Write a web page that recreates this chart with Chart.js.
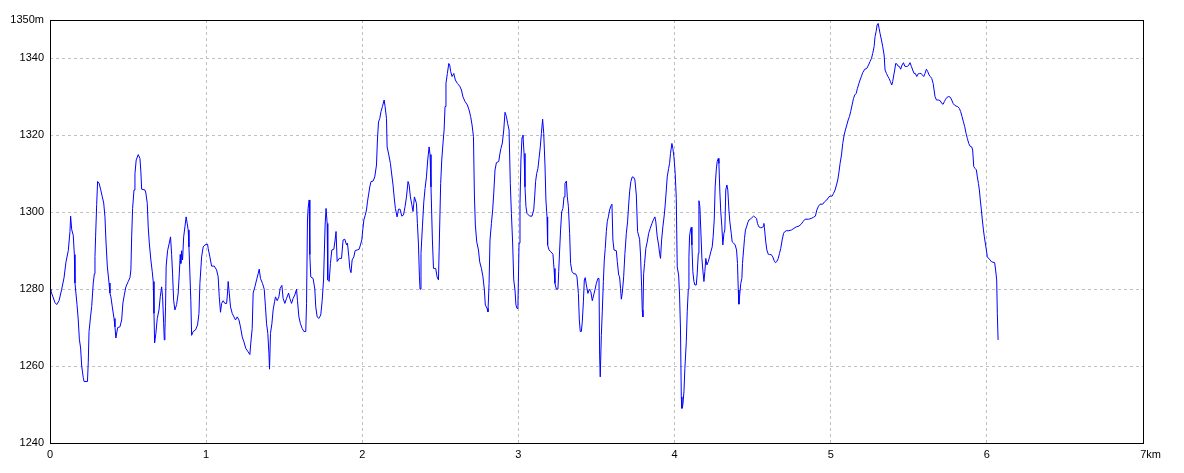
<!DOCTYPE html>
<html>
<head>
<meta charset="utf-8">
<script src="https://cdn.jsdelivr.net/npm/chart.js@4/dist/chart.umd.min.js"></script>
<style>
html,body{margin:0;padding:0;background:#fff;}
#wrap{width:1184px;height:473px;}
</style>
</head>
<body>
<div id="wrap"><canvas id="c" width="1184" height="473" style="width:1184px;height:473px"></canvas></div>
<script>
// Distance along the route (metres)
const distanceM = [
0,6,19,32,43,58,75,90,102,117,
128,132,139,149,156,160,173,181,188,196,
203,213,218,240,245,250,260,267,277,284,
288,292,299,305,314,324,335,344,352,358,
367,378,384,390,399,410,416,422,433,448,
459,467,476,486,501,512,518,523,529,538,
544,552,565,576,582,587,608,614,623,629,
636,646,655,661,666,670,678,687,698,706,
715,721,728,732,736,740,744,753,764,772,
779,785,792,800,811,821,828,834,838,843,
849,856,864,872,879,885,890,896,902,907,
917,932,945,954,960,971,981,992,1009,1013,
1024,1035,1052,1067,1077,1084,1092,1099,1109,1120,
1131,1137,1141,1148,1156,1167,1178,1188,1199,1210,
1220,1231,1242,1254,1269,1280,1286,1295,1301,1312,
1323,1333,1340,1348,1361,1372,1380,1387,1395,1402,
1406,1412,1421,1429,1438,1444,1455,1466,1474,1485,
1493,1504,1515,1528,1536,1547,1557,1568,1579,1585,
1594,1604,1615,1626,1638,1643,1649,1653,1660,1664,
1670,1685,1696,1702,1711,1722,1734,1743,1752,1762,
1768,1775,1779,1788,1796,1805,1818,1826,1832,1839,
1852,1867,1877,1888,1899,1905,1914,1920,1928,1935,
1946,1954,1967,1980,1988,1997,2003,2010,2018,2027,
2033,2040,2048,2056,2069,2080,2091,2097,2104,2112,
2120,2129,2140,2146,2155,2159,2170,2180,2189,2197,
2204,2212,2223,2232,2242,2253,2264,2274,2283,2293,
2300,2308,2317,2325,2334,2340,2347,2353,2360,2366,
2370,2376,2385,2394,2402,2411,2419,2428,2434,2440,
2449,2456,2470,2479,2488,2492,2502,2509,2517,2524,
2530,2536,2545,2554,2560,2566,2575,2586,2596,2609,
2624,2635,2645,2658,2673,2684,2694,2703,2712,2718,
2724,2733,2744,2752,2763,2773,2782,2788,2799,2805,
2812,2818,2827,2835,2842,2850,2859,2874,2880,2888,
2897,2906,2914,2923,2931,2940,2948,2955,2963,2970,
2978,2984,2991,2997,3004,3010,3016,3023,3029,3036,
3042,3048,3055,3072,3087,3098,3104,3110,3117,3125,
3132,3140,3147,3155,3162,3170,3176,3183,3187,3196,
3208,3221,3228,3234,3243,3253,3258,3264,3270,3277,
3285,3292,3298,3307,3313,3320,3328,3334,3343,3354,
3366,3375,3384,3390,3396,3403,3409,3416,3422,3428,
3435,3445,3454,3464,3473,3482,3490,3499,3509,3516,
3520,3524,3531,3537,3544,3550,3556,3563,3569,3576,
3584,3592,3599,3605,3612,3627,3633,3642,3648,3654,
3659,3665,3674,3682,3691,3699,3706,3712,3720,3729,
3738,3746,3755,3763,3776,3782,3789,3793,3797,3802,
3808,3816,3825,3834,3844,3855,3866,3874,3880,3889,
3898,3904,3910,3917,3925,3934,3940,3947,3953,3962,
3968,3974,3983,3989,3996,4004,4011,4017,4026,4032,
4038,4043,4047,4053,4060,4066,4075,4081,4088,4092,
4096,4102,4107,4111,4117,4124,4130,4139,4145,4152,
4156,4162,4168,4175,4181,4188,4194,4200,4207,4216,
4224,4232,4241,4247,4254,4260,4267,4273,4280,4284,
4290,4296,4303,4309,4316,4322,4328,4335,4341,4348,
4354,4363,4369,4378,4388,4397,4403,4408,4412,4418,
4424,4431,4435,4442,4448,4454,4461,4469,4476,4486,
4497,4506,4516,4525,4531,4540,4550,4561,4568,4572,
4578,4584,4591,4600,4608,4619,4629,4638,4646,4655,
4664,4672,4680,4689,4698,4704,4715,4732,4749,4764,
4779,4796,4811,4821,4836,4858,4875,4890,4902,4911,
4922,4932,4949,4960,4975,4988,4998,5009,5018,5028,
5037,5045,5052,5060,5069,5077,5086,5094,5103,5112,
5120,5128,5137,5146,5154,5163,5171,5180,5188,5197,
5205,5218,5231,5242,5252,5261,5269,5278,5284,5291,
5297,5304,5310,5316,5325,5333,5342,5348,5357,5365,
5374,5382,5391,5397,5404,5410,5416,5423,5432,5440,
5448,5457,5466,5474,5483,5491,5500,5508,5517,5525,
5534,5542,5551,5560,5568,5579,5587,5596,5604,5613,
5621,5630,5638,5647,5656,5662,5668,5677,5690,5702,
5711,5720,5728,5736,5745,5756,5766,5775,5784,5792,
5803,5813,5824,5832,5841,5850,5858,5867,5875,5884,
5892,5903,5909,5916,5924,5933,5939,5946,5952,5958,
5965,5971,5978,5984,5990,5997,6003,6016,6031,6050,
6056,6063,6067,6072
];

// Elevation (metres)
const elevationM = [
1280,1279.5,1278,1276.5,1276,1277,1280,1283,1287,1290,
1295,1299,1295.5,1294,1289,1281.6,1276,1272,1267,1264.7,
1260,1257,1256,1256,1261,1269,1273,1275.5,1281.6,1284,
1288.5,1293.6,1302,1308,1307.6,1306,1304,1302.4,1298.8,1292.8,
1286,1281.6,1279,1278,1275.4,1272.4,1270.2,1267.3,1270,1270.2,
1272,1276.4,1278.5,1280.6,1282,1283,1285,1293.6,1301,1305.8,
1310,1313.6,1315,1314,1310.5,1306,1305.8,1305,1302.3,1296.2,
1292,1287.6,1284.5,1282,1273.7,1266,1268.5,1272.4,1274.6,1278,
1280.6,1278,1271,1266.8,1269,1275.4,1286,1290,1292,1293.6,
1289,1284,1277,1274.6,1276,1279,1284,1289,1286.7,1290,
1287.6,1293.6,1296.2,1298.8,1297,1295.4,1291,1284,1277,1268,
1269,1269.4,1270.7,1273.7,1281.5,1288.4,1291,1291.5,1291.7,1290.6,
1288.4,1286,1286,1285,1283.2,1278,1274,1276.3,1277,1276.3,
1276.3,1279,1282,1279,1275.4,1273.7,1272.8,1272,1272.8,1272,
1270.2,1267.6,1266.3,1264.6,1263.7,1263,1266,1269.8,1279,1280.6,
1282.4,1284,1285.2,1282.8,1281.5,1280,1275.4,1271,1268.5,1263.3,
1259.2,1268.5,1271,1274.6,1276.7,1278,1277,1278,1280.2,1281,
1277.6,1276.3,1277.6,1279,1277.6,1276.3,1277.6,1278.5,1280,1277,
1272.8,1271,1269.8,1269,1269,1276.3,1298,1301,1303.2,1289,
1283.2,1282.8,1280,1275.4,1272.8,1272.4,1273.3,1277,1282.4,1296.7,
1301,1297.1,1282.4,1282,1286.7,1290.2,1290.4,1292.8,1295,1287.2,
1288,1288,1292.8,1293,1291.5,1292,1288.4,1285.4,1284.3,1287.6,
1288.4,1290,1290.2,1290.4,1291.5,1292.8,1295.4,1298,1299.1,1300.6,
1302.7,1304.5,1306.6,1308,1308.1,1309.2,1312.3,1318.8,1323.5,1324.4,
1326.2,1327.5,1329.2,1327.5,1324.4,1317,1314.9,1312.7,1309.7,1307.1,
1304,1301,1298.8,1300.8,1300.8,1299,1299.3,1301.5,1304,1308,
1307.1,1304,1302,1300.2,1304,1303.2,1302.3,1297.1,1291.5,1283.2,
1280,1289.3,1296.2,1302.7,1306.2,1309.2,1313.6,1317,1315,1306.6,
1292.8,1285.4,1285.4,1283.2,1282.4,1289.7,1307.5,1313.6,1318,1321.4,
1327.5,1333.5,1336.1,1338.7,1338.3,1336.6,1335.3,1336.1,1334.4,1333.5,
1332.8,1331.8,1330,1328.8,1327.9,1326.6,1324.9,1322.7,1319.7,1304.5,
1296.7,1292.3,1290.2,1287.1,1285.4,1283.2,1279.8,1275.9,1275,1274.1,
1281.5,1292.8,1297.1,1300.6,1305,1311,1312.9,1313.2,1314.9,1316.6,
1318,1321.4,1326,1324.9,1323.1,1321.4,1307.5,1299.7,1292,1282.4,
1279.8,1275.9,1275,1276.3,1292,1302.3,1313.6,1319.5,1320.1,1315.3,
1306.6,1301.5,1299.7,1299,1299,1300.6,1304,1308,1310.1,1311.4,
1314,1317,1320.5,1324.2,1320.5,1312.3,1303.2,1298.8,1291.5,1290.2,
1289.7,1289.1,1285.4,1281.5,1280,1280,1284.6,1290.2,1295.4,1300.1,
1301,1304,1307.5,1308.1,1304,1301.5,1294.5,1286.7,1284.6,1284,
1284,1283.2,1278.9,1272,1269,1269,1271.5,1276.7,1282.4,1283,
1281.1,1278.9,1280,1279.3,1277,1278.5,1279.8,1281.5,1282.8,1282.8,
1262.9,1257.2,1268,1274.1,1282,1287.6,1290.6,1295,1297.6,1298.8,
1300.6,1301.6,1302.1,1292.8,1290.2,1290,1287.2,1283.7,1283.2,1280.2,
1277.4,1278.9,1283.2,1289.3,1294.5,1297.5,1301.9,1305.3,1308,1309.2,
1309.1,1308.4,1304.5,1295,1293,1288.9,1280.6,1274.6,1272.8,1284,
1286.7,1290.6,1292.3,1294.5,1295.8,1297.1,1298.2,1298.8,1297.5,1293.6,
1291.5,1289.3,1288,1292.8,1296.2,1299.3,1301.9,1305.8,1309.2,1311.4,
1312.7,1315.3,1317.9,1316.6,1314.4,1310.1,1303.6,1285.8,1283.7,1278.5,
1269.4,1252,1249,1249.9,1253.3,1259.4,1266.3,1274.1,1280,1288.4,
1293.8,1295.4,1296.1,1291.5,1284.6,1282,1281.1,1281.1,1284,1289.3,
1303,1301.5,1295.4,1288,1285,1282,1284.6,1288,1286.3,1287.2,
1288.4,1289.7,1291,1293.6,1298,1306.6,1311,1313.2,1314,1312.7,
1305.3,1300.1,1296.2,1291.5,1294.5,1295.4,1305.8,1307.1,1305.8,1300.6,
1297.5,1294.5,1292.3,1292,1291.5,1290.2,1286.7,1279.8,1276.1,1278.9,
1281.5,1282.8,1286.7,1290.2,1293.2,1295.4,1296.2,1297.3,1298,1298.2,
1298.7,1299,1298.7,1298.4,1297.1,1296.2,1296,1296,1296.4,1297.1,
1294.9,1292.3,1290.2,1289.1,1289,1289,1288.4,1287.4,1286.9,1287.2,
1288,1289.3,1290.6,1292.8,1294.5,1294.9,1295.2,1295.2,1295.4,1295.8,
1296.2,1296.4,1296.9,1297.5,1298.2,1298.2,1298.4,1298.7,1299,1300.6,
1301.6,1302.1,1302.1,1302.7,1303.2,1304,1304.2,1304.2,1304.9,1305.8,
1307.1,1308.4,1310.2,1312.7,1314.9,1317.9,1320.1,1321.4,1322.7,1324,
1324.9,1326.2,1327.9,1329.6,1330.5,1330.9,1332.2,1333.4,1334.4,1335.4,
1336.3,1337.2,1337.4,1338.3,1339.2,1340,1341.3,1343.1,1345.7,1347,
1348.7,1349.1,1347.8,1346.5,1344.8,1343.1,1340.9,1337,1336.1,1335.4,
1334.8,1334,1333.1,1334,1335.7,1337,1338.7,1338.6,1338,1337.9,
1337.2,1338.3,1338.9,1338,1337.9,1337.9,1338.3,1338.9,1337.9,1337,
1336.1,1336.1,1335.3,1336,1336.1,1336.1,1335.7,1335.3,1336.1,1337.2,
1336.6,1335.7,1335.3,1334.8,1333.5,1331.8,1330.1,1329.2,1329.2,1329,
1328.3,1328.1,1328.8,1329.4,1329.9,1330.1,1329.9,1329.2,1328.3,1327.9,
1327.6,1327.5,1327,1326.2,1324.9,1323.5,1322.3,1320.5,1319.2,1317.9,
1317.2,1317,1316.2,1311.9,1311.4,1311,1309.2,1307.5,1305.8,1303.2,
1300.6,1298,1295.4,1293.6,1292,1290.2,1288.4,1287.8,1287.1,1286.9,
1285,1282.4,1273.7,1266.8
];

// Axis ticks and labels
const xTickValues = [0, 1, 2, 3, 4, 5, 6, 7];
const xTickLabels = ['0', '1', '2', '3', '4', '5', '6', '     7km'];
const yTickValues = [1240, 1260, 1280, 1300, 1320, 1340, 1350];
const yTickLabels = ['1240', '1260', '1280', '1300', '1320', '1340', '1350m'];

const points = distanceM.map((d, i) => ({ x: d / 1000, y: elevationM[i] }));

const tickFont = { family: '"Liberation Sans", Arial, sans-serif', size: 11 };
const gridColor = '#c0c0c0';

const framePlugin = {
  id: 'frame',
  afterDraw(chart) {
    const a = chart.chartArea;
    const ctx = chart.ctx;
    ctx.save();
    ctx.strokeStyle = '#000';
    ctx.lineWidth = 1;
    ctx.setLineDash([]);
    ctx.strokeRect(Math.round(a.left) + 0.5, Math.round(a.top) + 0.5,
      Math.round(a.right) - Math.round(a.left), Math.round(a.bottom) - Math.round(a.top));
    ctx.restore();
  }
};

new Chart(document.getElementById('c'), {
  type: 'line',
  data: {
    datasets: [{
      data: points,
      borderColor: '#0000ff',
      borderWidth: 1,
      pointRadius: 0,
      pointHoverRadius: 0,
      tension: 0,
      fill: false
    }]
  },
  options: {
    responsive: false,
    animation: false,
    events: [],
    layout: { padding: { top: 20, right: 41, left: 0, bottom: 0 } },
    plugins: { legend: { display: false }, tooltip: { enabled: false } },
    scales: {
      x: {
        type: 'linear',
        min: 0,
        max: 7,
        afterBuildTicks(scale) { scale.ticks = xTickValues.map(v => ({ value: v })); },
        afterFit(scale) { scale.height = 30; },
        grid: {
          drawTicks: false,
          lineWidth: 1,
          color: (c) => (c.tick && (c.tick.value === 0 || c.tick.value === 7)) ? 'rgba(0,0,0,0)' : gridColor
        },
        border: { display: false, dash: [3, 3] },
        ticks: {
          padding: 5,
          color: '#000',
          font: tickFont,
          maxRotation: 0,
          autoSkip: false,
          callback: (v) => { const i = xTickValues.indexOf(v); return i >= 0 ? xTickLabels[i] : ''; }
        }
      },
      y: {
        min: 1240,
        max: 1350,
        afterBuildTicks(scale) { scale.ticks = yTickValues.map(v => ({ value: v })); },
        afterFit(scale) { scale.width = 50; },
        grid: {
          drawTicks: false,
          lineWidth: 1,
          color: (c) => (c.tick && (c.tick.value === 1240 || c.tick.value === 1350)) ? 'rgba(0,0,0,0)' : gridColor
        },
        border: { display: false, dash: [3, 3] },
        ticks: {
          padding: 6,
          color: '#000',
          font: tickFont,
          autoSkip: false,
          callback: (v) => { const i = yTickValues.indexOf(v); return i >= 0 ? yTickLabels[i] : ''; }
        }
      }
    }
  },
  plugins: [framePlugin]
});
</script>
</body>
</html>
